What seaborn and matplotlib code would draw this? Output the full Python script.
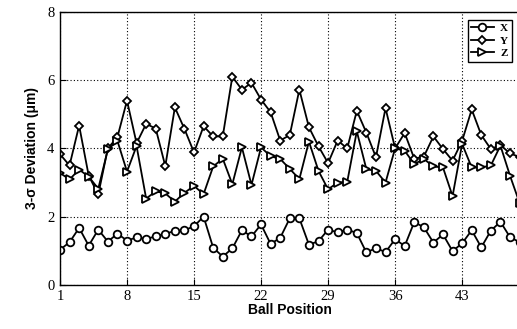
"""3-sigma deviation per ball position for X, Y, Z."""
import numpy as np
import pandas as pd
import seaborn as sns
from matplotlib import pyplot as plt

balls = list(range(1, 50))

dev_x = [1.03, 1.25, 1.67, 1.15, 1.62, 1.27, 1.50, 1.30, 1.39, 1.35,
         1.42, 1.50, 1.58, 1.60, 1.72, 2.00, 1.09, 0.83, 1.07, 1.60,
         1.42, 1.77, 1.20, 1.38, 1.95, 1.95, 1.18, 1.28, 1.62, 1.54,
         1.62, 1.52, 0.95, 1.08, 0.96, 1.34, 1.14, 1.84, 1.69, 1.24,
         1.48, 0.99, 1.22, 1.60, 1.10, 1.59, 1.85, 1.40, 1.25]
dev_y = [3.83, 3.50, 4.67, 3.20, 2.65, 4.00, 4.33, 5.40, 4.15, 4.72,
         4.58, 3.48, 5.20, 4.57, 3.88, 4.65, 4.35, 4.35, 6.10, 5.72,
         5.92, 5.43, 5.06, 4.23, 4.39, 5.72, 4.62, 4.06, 3.57, 4.23,
         4.00, 5.10, 4.46, 3.74, 5.18, 4.00, 4.45, 3.70, 3.76, 4.35,
         3.98, 3.64, 4.22, 5.14, 4.39, 3.98, 4.10, 3.85, 3.75]
dev_z = [3.28, 3.09, 3.38, 3.17, 2.82, 3.97, 4.22, 3.32, 4.07, 2.53,
         2.74, 2.68, 2.44, 2.70, 2.90, 2.66, 3.47, 3.70, 2.95, 4.03,
         2.93, 4.03, 3.77, 3.69, 3.40, 3.10, 4.20, 3.34, 2.80, 3.00,
         3.02, 4.50, 3.39, 3.34, 3.00, 4.00, 3.93, 3.54, 3.69, 3.47,
         3.44, 2.60, 4.13, 3.44, 3.44, 3.50, 4.08, 3.20, 2.40]

df = pd.DataFrame({'ball': balls, 'X': dev_x, 'Y': dev_y, 'Z': dev_z})

fig = plt.figure(figsize=(5.17, 3.29), dpi=100)
ax = fig.add_axes([0.116, 0.134, 0.889, 0.830])

common = dict(color='black', linewidth=1.3, markerfacecolor='white',
              markeredgecolor='black', markeredgewidth=1.3, ax=ax)
sns.lineplot(x='ball', y='X', data=df, marker='o', markersize=5.5, label='X', **common)
sns.lineplot(x='ball', y='Y', data=df, marker='D', markersize=4.2, label='Y', **common)
sns.lineplot(x='ball', y='Z', data=df, marker='>', markersize=6, label='Z', **common)

ax.set_xlim(1, 49)
ax.set_ylim(0, 8)
ax.set_xticks([1, 8, 15, 22, 29, 36, 43])
ax.set_yticks([0, 2, 4, 6, 8])
ax.grid(True, color='black', linestyle=(0, (1, 2)), linewidth=0.8)
ax.tick_params(direction='in', length=4, labelsize=10.5, pad=4)
for lab in ax.get_xticklabels() + ax.get_yticklabels():
    lab.set_family('Liberation Serif')
ax.spines['right'].set_visible(False)
for s in ['left', 'bottom', 'top']:
    ax.spines[s].set_linewidth(1.0)

ax.set_xlabel('Ball Position', family='Liberation Sans', weight='bold',
              fontsize=10, labelpad=0)
ax.set_ylabel('3-σ Deviation (μm)', family='Liberation Sans', weight='bold',
              fontsize=10, labelpad=6)

leg = ax.legend(loc='upper right', bbox_to_anchor=(0.995, 0.99), fancybox=False,
                edgecolor='black', framealpha=1, handlelength=2.0,
                borderpad=0.3, labelspacing=0.25, handletextpad=0.6,
                prop={'family': 'Liberation Serif', 'size': 8, 'weight': 'bold'})
leg.get_frame().set_linewidth(1.0)

fig.savefig('out.png', dpi=100)
